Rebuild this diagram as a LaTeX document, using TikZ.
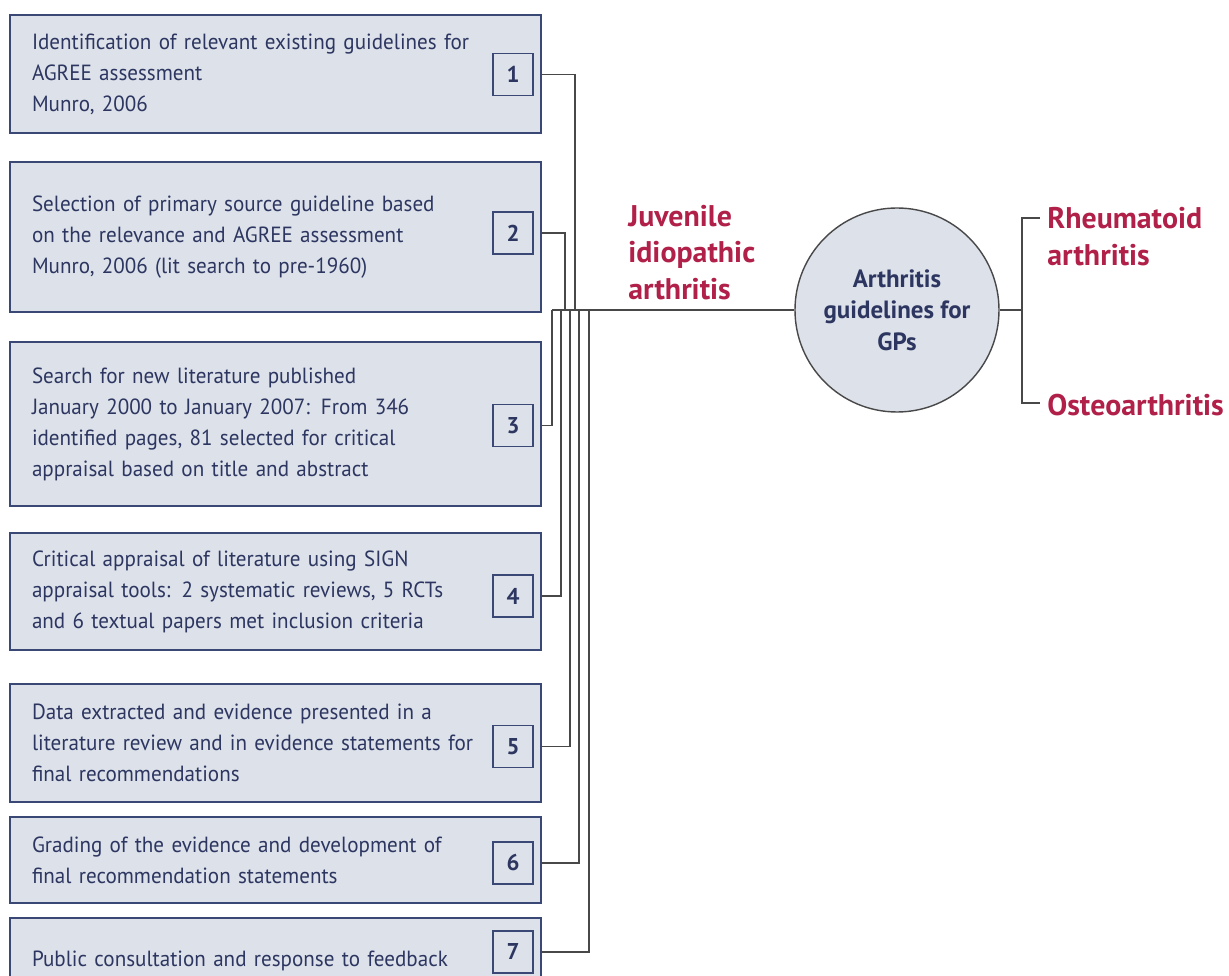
\documentclass[tikz,border=0pt]{standalone}
\usepackage{fontspec}
\setmainfont{PT Sans}[UprightFeatures={FakeStretch=0.96}]
\usetikzlibrary{positioning}

\definecolor{boxfill}{RGB}{221,225,234}
\definecolor{boxline}{RGB}{58,72,118}
\definecolor{inkblue}{RGB}{44,54,96}
\definecolor{rosered}{RGB}{176,32,72}
\definecolor{wiregray}{RGB}{72,72,72}

\begin{document}
\begin{tikzpicture}[
    every node/.style={font=\fontsize{12.5}{17.6}\selectfont, text=inkblue},
    stepbox/.style={rectangle, draw=boxline, line width=1.1pt, fill=boxfill,
                    minimum width=10.62cm, inner xsep=0.44cm, inner ysep=0pt,
                    text width=9.74cm, align=left},
    num/.style={rectangle, draw=boxline, line width=1.1pt, fill=boxfill,
                minimum width=0.8cm, minimum height=0.84cm, inner sep=0pt,
                font=\bfseries\fontsize{13}{15}\selectfont},
    hub/.style={circle, draw=wiregray, line width=0.8pt, fill=boxfill,
                minimum size=4.08cm, inner sep=0pt, align=center,
                font=\bfseries\fontsize{14.2}{17.9}\selectfont},
    kind/.style={inner sep=0pt, align=left, text=rosered,
                 font=\bfseries\fontsize{17}{21}\selectfont},
    link/.style={draw=wiregray, line width=0.85pt},
  ]
  \clip (0,0) rectangle (24.58,-19.52);

  % the seven steps
  \node[stepbox, minimum height=2.36cm] (s1) at (5.51,-1.48)
    {Identification of relevant existing guidelines for\\ AGREE assessment\\ Munro, 2006};
  \node[stepbox, minimum height=3.00cm] (s2) at (5.51,-4.74)
    {Selection of primary source guideline based\\ on the relevance and AGREE assessment\\ Munro, 2006 (lit search to pre-1960)};
  \node[stepbox, minimum height=3.28cm] (s3) at (5.51,-8.48)
    {Search for new literature published\\ January 2000 to January 2007: From 346\\ identified pages, 81 selected for critical\\ appraisal based on title and abstract};
  \node[stepbox, minimum height=2.34cm] (s4) at (5.51,-11.83)
    {Critical appraisal of literature using SIGN\\ appraisal tools: 2 systematic reviews, 5 RCTs\\ and 6 textual papers met inclusion criteria};
  \node[stepbox, minimum height=2.36cm] (s5) at (5.51,-14.86)
    {Data extracted and evidence presented in a\\ literature review and in evidence statements for\\ final recommendations};
  \node[stepbox, minimum height=1.72cm] (s6) at (5.51,-17.20)
    {Grading of the evidence and development of\\ final recommendation statements};
  \node[stepbox, minimum height=1.72cm] (s7) at (5.51,-19.22)
    {Public consultation and response to feedback};

  \node[num] (n1) at (10.26,-1.49) {1};
  \node[num] (n2) at (10.26,-4.66) {2};
  \node[num] (n3) at (10.26,-8.51) {3};
  \node[num] (n4) at (10.26,-11.92) {4};
  \node[num] (n5) at (10.26,-14.93) {5};
  \node[num] (n6) at (10.26,-17.26) {6};
  \node[num] (n7) at (10.26,-19.04) {7};

  % centre and the three kinds of arthritis
  \node[hub] (gp) at (17.94,-6.20) {Arthritis\\ guidelines for\\ GPs};
  \node[kind, anchor=west] (jia) at (12.56,-5.05) {Juvenile\\ idiopathic\\ arthritis};
  \node[kind, anchor=west] (ra) at (20.94,-4.73) {Rheumatoid\\ arthritis};
  \node[kind, anchor=west] (oa) at (20.94,-8.10) {Osteoarthritis};

  % bundle from the steps into the centre
  \foreach \i/\x in {1/11.50, 2/11.30, 3/11.04, 4/11.22, 5/11.40, 6/11.58, 7/11.78} {
    \coordinate (j\i) at (\x,-6.20);
    \draw[link] (s\i.east |- n\i) -| (j\i);
  }
  \draw[link] (j3) -- (gp);

  % fork to the right
  \coordinate (fork) at (20.44,-6.20);
  \coordinate (ratip) at (20.80,-4.36);
  \coordinate (oatip) at (20.80,-8.06);
  \draw[link] (gp) -- (fork);
  \draw[link] (ratip) -| (fork) |- (oatip);
\end{tikzpicture}
\end{document}
